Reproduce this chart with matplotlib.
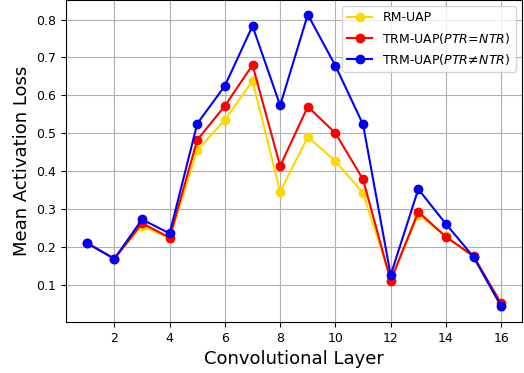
import matplotlib
matplotlib.use("Agg")
import matplotlib.pyplot as plt

layers = list(range(1, 17))
rm_uap = [0.21, 0.168, 0.255, 0.222, 0.455, 0.535, 0.638, 0.345,
          0.49, 0.426, 0.342, 0.115, 0.285, 0.228, 0.172, 0.04]
trm_eq = [0.21, 0.168, 0.262, 0.224, 0.482, 0.572, 0.68, 0.413,
          0.57, 0.5, 0.378, 0.11, 0.292, 0.226, 0.175, 0.05]
trm_neq = [0.21, 0.168, 0.272, 0.235, 0.525, 0.625, 0.783, 0.573,
           0.813, 0.678, 0.523, 0.125, 0.352, 0.26, 0.173, 0.043]

fig = plt.figure(figsize=(5.24, 3.73), dpi=100)
ax = fig.add_axes([0.126, 0.137, 0.87, 0.863])

ax.plot(layers, rm_uap, 'o-', color='gold', label='RM-UAP')
ax.plot(layers, trm_eq, 'o-', color='red', label=r'TRM-UAP($PTR\!=\!NTR$)')
ax.plot(layers, trm_neq, 'o-', color='blue', label=r'TRM-UAP($PTR\!\neq\!NTR$)')

ax.set_xticks(range(2, 17, 2))
ax.grid(True)
ax.set_xlabel('Convolutional Layer', fontsize=13)
ax.set_ylabel('Mean Activation Loss', fontsize=13)
ax.tick_params(labelsize=9)
ax.legend(fontsize=9)

fig.savefig('out.png')
